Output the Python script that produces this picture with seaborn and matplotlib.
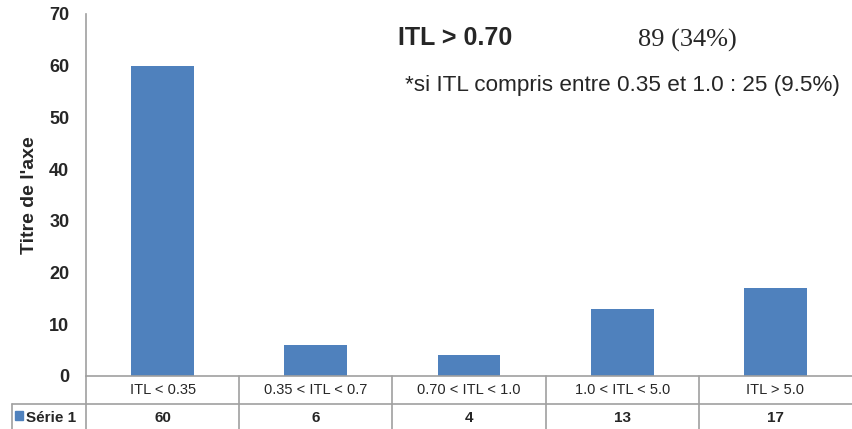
import pandas as pd
import matplotlib
matplotlib.use("Agg")
import matplotlib.pyplot as plt
import seaborn as sns
from matplotlib.lines import Line2D
from matplotlib.patches import Rectangle

# Données
categories = ["ITL < 0.35", "0.35 < ITL < 0.7", "0.70 < ITL < 1.0", "1.0 < ITL < 5.0", "ITL > 5.0"]
valeurs = [60, 6, 4, 13, 17]
serie = "Série 1"
y_ticks = [0, 10, 20, 30, 40, 50, 60, 70]

df = pd.DataFrame({"categorie": categories, "valeur": valeurs})

sns.set_style("white")
plt.rcParams["font.family"] = ["Liberation Sans", "DejaVu Sans"]

W, H = 852, 429
fig = plt.figure(figsize=(W / 100, H / 100), dpi=100)

def fx(px):
    return px / W

def fy(py):
    return 1 - py / H

ax_left, ax_right, ax_top, ax_bot = 86, 852, 14, 376
ax = fig.add_axes([fx(ax_left), fy(ax_bot), fx(ax_right - ax_left), (ax_bot - ax_top) / H])

sns.barplot(data=df, x="categorie", y="valeur", color="#4F81BD", saturation=1,
            width=0.41, linewidth=0, ax=ax)
ax.set_xlim(-0.5, len(categories) - 0.5)
ax.set_ylim(0, 70)
ax.set_yticks(y_ticks)
ax.set_yticklabels([str(t) for t in y_ticks], fontsize=13, fontweight="bold")
ax.tick_params(axis="y", length=0, pad=12)
ax.set_xticks([])
ax.set_xlabel("")
ax.set_ylabel("Titre de l'axe", fontsize=14, fontweight="bold", labelpad=8)
for s in ["top", "right", "bottom"]:
    ax.spines[s].set_visible(False)
ax.spines["left"].set_color("#a0a0a0")
ax.spines["left"].set_linewidth(1.2)

# Tableau de données sous le graphique
gris = "#a0a0a0"
lignes = []
row1_bot, row2_bot = 404, 429
lignes.append(Line2D([fx(ax_left), fx(W)], [fy(ax_bot), fy(ax_bot)]))
lignes.append(Line2D([fx(12), fx(W)], [fy(row1_bot), fy(row1_bot)]))
lignes.append(Line2D([fx(ax_left), fx(ax_left)], [fy(ax_bot), fy(row2_bot)]))
lignes.append(Line2D([fx(12), fx(12)], [fy(row1_bot), fy(row2_bot)]))
pas = (ax_right - ax_left) / len(categories)
for i in range(1, len(categories)):
    x = ax_left + i * pas
    lignes.append(Line2D([fx(x), fx(x)], [fy(ax_bot), fy(row2_bot)]))
for l in lignes:
    l.set_color(gris)
    l.set_linewidth(1.2)
    fig.add_artist(l)

for i, (c, v) in enumerate(zip(categories, valeurs)):
    xc = ax_left + (i + 0.5) * pas
    fig.text(fx(xc), fy((ax_bot + row1_bot) / 2), c, ha="center", va="center", fontsize=10.5)
    fig.text(fx(xc), fy((row1_bot + row2_bot) / 2 + 1), str(v), ha="center", va="center",
             fontsize=11, fontweight="bold")

fig.add_artist(Rectangle((fx(15), fy(420)), fx(8), 9 / H, color="#4F81BD",
                         transform=fig.transFigure))
fig.text(fx(26), fy((row1_bot + row2_bot) / 2 + 1), serie, ha="left", va="center",
         fontsize=11, fontweight="bold")

# Textes superposés en haut
fig.text(fx(398), fy(38), "ITL > 0.70", ha="left", va="center", fontsize=18, fontweight="bold")
fig.text(fx(638), fy(40), "89 (34%)", ha="left", va="center", fontsize=19,
         family=["Liberation Serif", "DejaVu Serif"])
fig.text(fx(405), fy(85), "*si ITL compris entre 0.35 et 1.0 : 25 (9.5%)", ha="left",
         va="center", fontsize=16.2)

fig.savefig("out.png", dpi=100)
